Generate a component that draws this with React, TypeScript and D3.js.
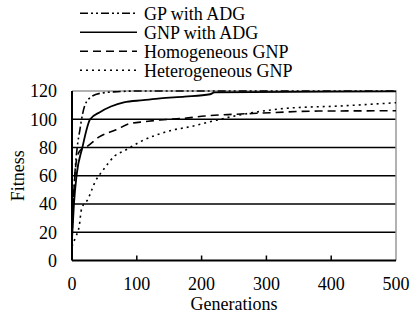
import React from 'react';
import * as d3 from 'd3';

const yTicks = [0, 20, 40, 60, 80, 100, 120];
const xTicks = [0, 100, 200, 300, 400, 500];

// [generation, fitness]
const gpADG: [number, number][] = [
  [0, 15], [2, 40], [5, 65], [8, 80], [12, 92], [16, 103], [20, 110], [30, 116],
  [45, 118.5], [70, 119.5], [100, 120], [500, 120],
];
const gnpADG: [number, number][] = [
  [0, 15], [3, 40], [7, 60], [16, 80], [28, 100], [43, 105], [60, 109], [80, 112],
  [110, 113.5], [136, 114.8], [174, 116], [213, 117.7], [220, 119], [400, 119.5], [500, 119.8],
];
const homoGNP: [number, number][] = [
  [0, 20], [3, 50], [6, 68], [10, 76], [15, 79], [24, 81], [42, 87.5], [68, 92.5],
  [90, 97], [113, 98.3], [136, 99.5], [174, 100.7], [205, 102.3], [250, 103.5],
  [285, 104.2], [380, 105.8], [500, 106],
];
const heteroGNP: [number, number][] = [
  [0, 10], [5, 16], [11, 24], [15, 37], [24, 43], [36, 56], [48, 64], [66, 74],
  [82, 78], [105, 84], [131, 89], [156, 92.4], [182, 94.7], [218, 98.8], [246, 101.8],
  [290, 105.5], [329, 107.7], [414, 109.4], [500, 111.7],
];

const seriesList = [
  { name: 'GP with ADG', data: gpADG, dash: '8,3,2,3,2,3', width: 1.6 },
  { name: 'GNP with ADG', data: gnpADG, dash: undefined, width: 1.8 },
  { name: 'Homogeneous GNP', data: homoGNP, dash: '8,5', width: 1.6 },
  { name: 'Heterogeneous GNP', data: heteroGNP, dash: '2,4', width: 1.6 },
];

const W = 416;
const H = 320;
const margin = { top: 91, right: 20, bottom: 59.5, left: 72 };
const txt: React.CSSProperties = { fontFamily: 'Liberation Serif', fontSize: 18 };

export default function App() {
  const x = d3.scaleLinear().domain([0, 500]).range([margin.left, W - margin.right]);
  const y = d3.scaleLinear().domain([0, 120]).range([H - margin.bottom, margin.top]);

  const line = d3.line<[number, number]>()
    .x(d => x(d[0]))
    .y(d => y(d[1]))
    .curve(d3.curveMonotoneX);

  return (
    <svg width={W} height={H} style={{ position: 'absolute', left: 0, top: 0, background: '#fff' }}>
      {/* gridlines */}
      {yTicks.filter(d => d > 0 && d < 120).map(d => (
        <line key={d} x1={x(0)} x2={x(500)} y1={y(d)} y2={y(d)} stroke="#000" strokeWidth={1.5} />
      ))}
      {/* top and right frame */}
      <path d={`M${x(0)},${y(120)}H${x(500)}V${y(0)}`} fill="none" stroke="#999" strokeWidth={1.5} />

      {/* curves */}
      {seriesList.map(s => (
        <path key={s.name} d={line(s.data) ?? ''} fill="none" stroke="#000"
          strokeWidth={s.width} strokeDasharray={s.dash} />
      ))}

      {/* x axis */}
      <line x1={x(0)} x2={x(500)} y1={y(0)} y2={y(0)} stroke="#000" strokeWidth={2} />
      {xTicks.map(t => (
        <g key={t}>
          {t > 0 && t < 500 && <line x1={x(t)} x2={x(t)} y1={y(0)} y2={y(0) - 5} stroke="#000" strokeWidth={1.5} />}
          <text x={x(t)} y={290} textAnchor="middle" style={txt}>{t}</text>
        </g>
      ))}

      {/* y axis */}
      <line x1={x(0)} x2={x(0)} y1={y(0)} y2={y(120)} stroke="#000" strokeWidth={2} />
      {yTicks.map(t => (
        <text key={t} x={x(0) - 15} y={y(t)} dy="0.35em" textAnchor="end" style={txt}>{t}</text>
      ))}

      {/* axis titles */}
      <text x={(x(0) + x(500)) / 2} y={310} textAnchor="middle" style={txt}>Generations</text>
      <text transform={`translate(24,${(y(0) + y(120)) / 2}) rotate(-90)`} textAnchor="middle" style={txt}>Fitness</text>

      {/* legend */}
      {seriesList.map((s, i) => {
        const ly = 13.3 + i * 19;
        return (
          <g key={s.name}>
            <line x1={80} x2={137} y1={ly} y2={ly} stroke="#000" strokeWidth={1.6} strokeDasharray={s.dash} />
            <text x={144} y={ly} dy="0.35em" style={txt}>{s.name}</text>
          </g>
        );
      })}
    </svg>
  );
}
